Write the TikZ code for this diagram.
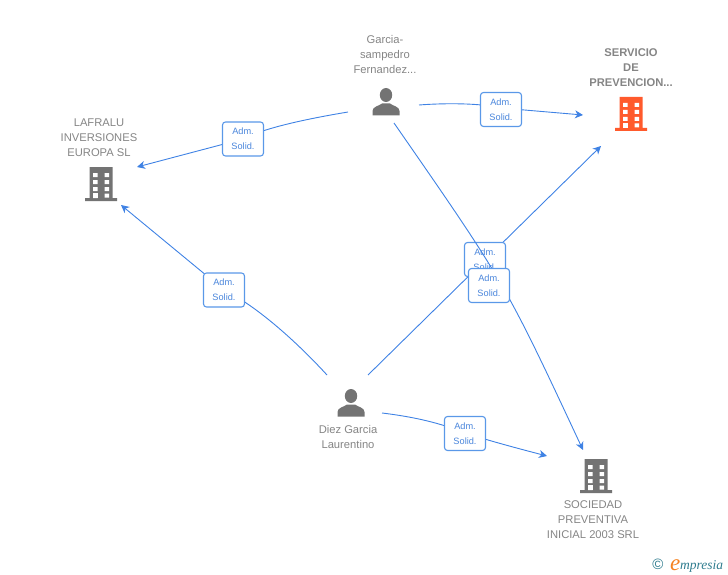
\documentclass[tikz,border=0pt]{standalone}
\usepackage{fontspec}
\setmainfont{Liberation Sans}
\newfontfamily\logofont{Liberation Serif}
\usetikzlibrary{arrows.meta}
\definecolor{linkblue}{HTML}{3F82E4}
\definecolor{boxblue}{HTML}{5A98E8}
\definecolor{lbltext}{HTML}{4A86DC}
\definecolor{nametext}{HTML}{858585}
\definecolor{icongrey}{HTML}{737373}
\definecolor{iconred}{HTML}{FF5A2C}
\definecolor{logoteal}{HTML}{2F7C8E}
\definecolor{logoorange}{HTML}{F58220}
\tikzset{
  link/.style={draw=linkblue,line width=0.9pt},
  tolink/.style={link,-{Stealth[length=8pt,width=8pt,inset=2.4pt]}},
  admbox/.style={draw=boxblue,line width=1.1pt,fill=white,rounded corners=3pt,minimum width=41pt,minimum height=34pt,inner sep=0pt,align=center,text=lbltext,font=\fontsize{9.2}{15}\selectfont},
  nametxt/.style={text=nametext,align=center,inner sep=0pt,font=\fontsize{11.2}{15}\selectfont},
  pics/building/.style={code={
    \fill[#1] (-11.5,-17) rectangle (11.5,14) (-16,14) rectangle (16,17);
    \foreach \yy in {-11,-4,3}{
      \fill[white] (-8,\yy) rectangle (-3.5,{\yy+4}) (3.5,\yy) rectangle (8,{\yy+4});
    }
    \fill[white] (-8,9.5) rectangle (-3.5,14) (3.5,9.5) rectangle (8,13.5);
    \fill[white] (-8,9) rectangle (-3.5,14);
  }},
  pics/person/.style={code={
    \fill[icongrey] (0,-7) ellipse (6.2pt and 7pt);
    \fill[icongrey] (-13.5,13.5) -- (-13.5,9) .. controls (-13.5,4.5) and (-7,4) .. (-4,1.5) -- (4,1.5) .. controls (7,4) and (13.5,4.5) .. (13.5,9) -- (13.5,13.5) -- cycle;
  }}
}
\begin{document}
\begin{tikzpicture}[x=1pt,y=-1pt]
\useasboundingbox (0,0) rectangle (728,575);
% free ends of connectors
\coordinate (gW) at (348,112);
\coordinate (gE) at (419,105);
\coordinate (gS) at (394,123);
\coordinate (dNW) at (327,375);
\coordinate (dNE) at (368,375);
\coordinate (dE) at (382,413);
\coordinate (toLaf) at (137,167);
\coordinate (toLafS) at (121,205);
\coordinate (toServ) at (583,115);
\coordinate (toServS) at (601,146);
\coordinate (toSoc) at (583,450);
\coordinate (toSocW) at (547,456);
% names
\node[nametxt] (ngarcia) at (385,54) {Garcia-\\sampedro\\Fernandez...};
\node[nametxt,font=\fontsize{11.2}{15}\selectfont\bfseries] (nserv) at (631,68) {SERVICIO\\DE\\PREVENCION...};
\node[nametxt] (nlaf) at (99,138) {LAFRALU\\INVERSIONES\\EUROPA SL};
\node[nametxt] (nsoc) at (593,520) {SOCIEDAD\\PREVENTIVA\\INICIAL 2003 SRL};
\node[nametxt] (ndiez) at (348,437) {Diez Garcia\\Laurentino};
% icons
\pic at (101,184) {building=icongrey};
\pic at (631,114) {building=iconred};
\pic at (596,476) {building=icongrey};
\pic at (386,102) {person};
\pic at (351,403) {person};
% connectors and labels, in stacking order
\draw[tolink] (gW) .. controls (300,120) and (262,129) .. (243,139) -- (toLaf);
\node[admbox] (a1) at (243,139) {Adm.\\Solid.};
\draw[tolink] (gE) .. controls (445,103) and (480,103) .. (501,108) -- (toServ);
\node[admbox] (a2) at (501,109.5) {Adm.\\Solid.};
\draw[tolink] (dNW) .. controls (295,340) and (255,305) .. (224,290) -- (toLafS);
\node[admbox] (a3) at (224,290) {Adm.\\Solid.};
\draw[tolink] (dE) .. controls (415,417) and (440,423) .. (465,433) .. controls (490,441) and (520,449) .. (toSocW);
\node[admbox] (a4) at (465,433.5) {Adm.\\Solid.};
\draw[tolink] (dNE) -- (toServS);
\node[admbox] (a5) at (485,259.5) {Adm.\\Solid.};
\draw[tolink] (gS) .. controls (505,283) .. (toSoc);
\node[admbox] (a6) at (489,285.5) {Adm.\\Solid.};
% logo
\node[inner sep=0pt,text=logoteal,font=\fontsize{15}{15}\selectfont] (copy) at (658,564) {©};
\node[inner sep=0pt,anchor=base west,text=logoorange,font=\logofont\itshape\fontsize{23}{23}\selectfont] (elogo) at (670,570) {e};
\node[inner sep=0pt,anchor=base west,text=logoteal,font=\logofont\itshape\fontsize{13.5}{14}\selectfont] (mlogo) at (680,569) {mpresia};
\end{tikzpicture}
\end{document}
